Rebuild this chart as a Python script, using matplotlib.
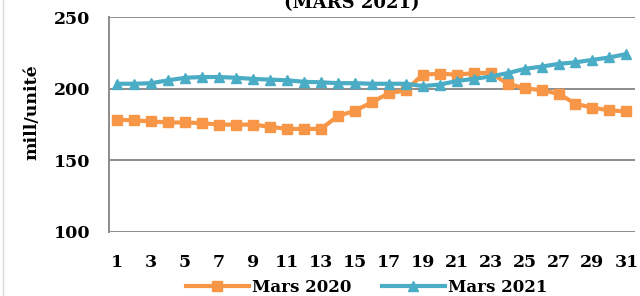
import numpy as np
import matplotlib.pyplot as plt
from matplotlib.lines import Line2D

days = list(range(1, 32))
mars_2020 = [178.4, 178, 177.2, 176.5, 176.5, 176, 175, 175, 175, 173.5,
             172, 172, 172, 181, 184.7, 190.6, 197, 199, 210, 210.6,
             210, 211, 211.3, 203.6, 200.6, 199, 196.6, 189.6, 186.8, 185,
             184.2]
mars_2021 = [203.6, 203.6, 204, 206, 207.8, 208.3, 208.3, 207.8, 207, 206.5,
             206, 205, 204.6, 204, 204, 203.6, 203.6, 203.6, 202, 203,
             205.5, 207, 208.7, 211, 214, 215.6, 217.5, 218.6, 220.3, 222,
             224.4]
xticks = list(range(1, 32, 2))
yticks = [100, 150, 200, 250]

plt.rcParams['font.family'] = 'DejaVu Serif'
plt.rcParams['font.weight'] = 'bold'

fig = plt.figure(figsize=(6.4, 2.96), dpi=100)
ax = fig.add_axes([0.170, 0.217, 0.822, 0.724])

orange = '#F79646'
blue = '#4BACC6'
ax.plot(days, mars_2020, color=orange, lw=3, marker='s', ms=6.5, label='Mars 2020', zorder=3)
ax.plot(days, mars_2021, color=blue, lw=3, marker='^', ms=7.5, label='Mars 2021', zorder=3)

ax.set_xlim(0.5, 31.5)
ax.set_ylim(100, 250)
ax.set_xticks(xticks)
ax.set_yticks(yticks)
ax.tick_params(axis='both', length=0, labelsize=12.5)
ax.tick_params(axis='y', pad=13)
ax.tick_params(axis='x', pad=16)
ax.grid(axis='y', color='#8c8c8c', lw=1.4)
for s in ['top', 'right', 'bottom']:
    ax.spines[s].set_visible(False)
ax.spines['left'].set_color('#8c8c8c')
ax.spines['left'].set_linewidth(1.4)

ax.set_ylabel('mill/unité', fontsize=12.5, fontweight='bold')
ax.yaxis.set_label_coords(-0.130, 0.56)

fig.text(0.55, 0.958, '(MARS 2021)', ha='center', va='bottom', fontsize=13, fontweight='bold')

ax.legend(loc='center', bbox_to_anchor=(0.49, -0.258), ncol=2, frameon=False,
          fontsize=12, handlelength=3.8, handletextpad=0.2, columnspacing=1.8,
          borderaxespad=0, borderpad=0)

fig.add_artist(Line2D([0.005, 0.005], [0, 1], color='#d9d9d9', lw=1))

fig.savefig('out.png', dpi=100)
